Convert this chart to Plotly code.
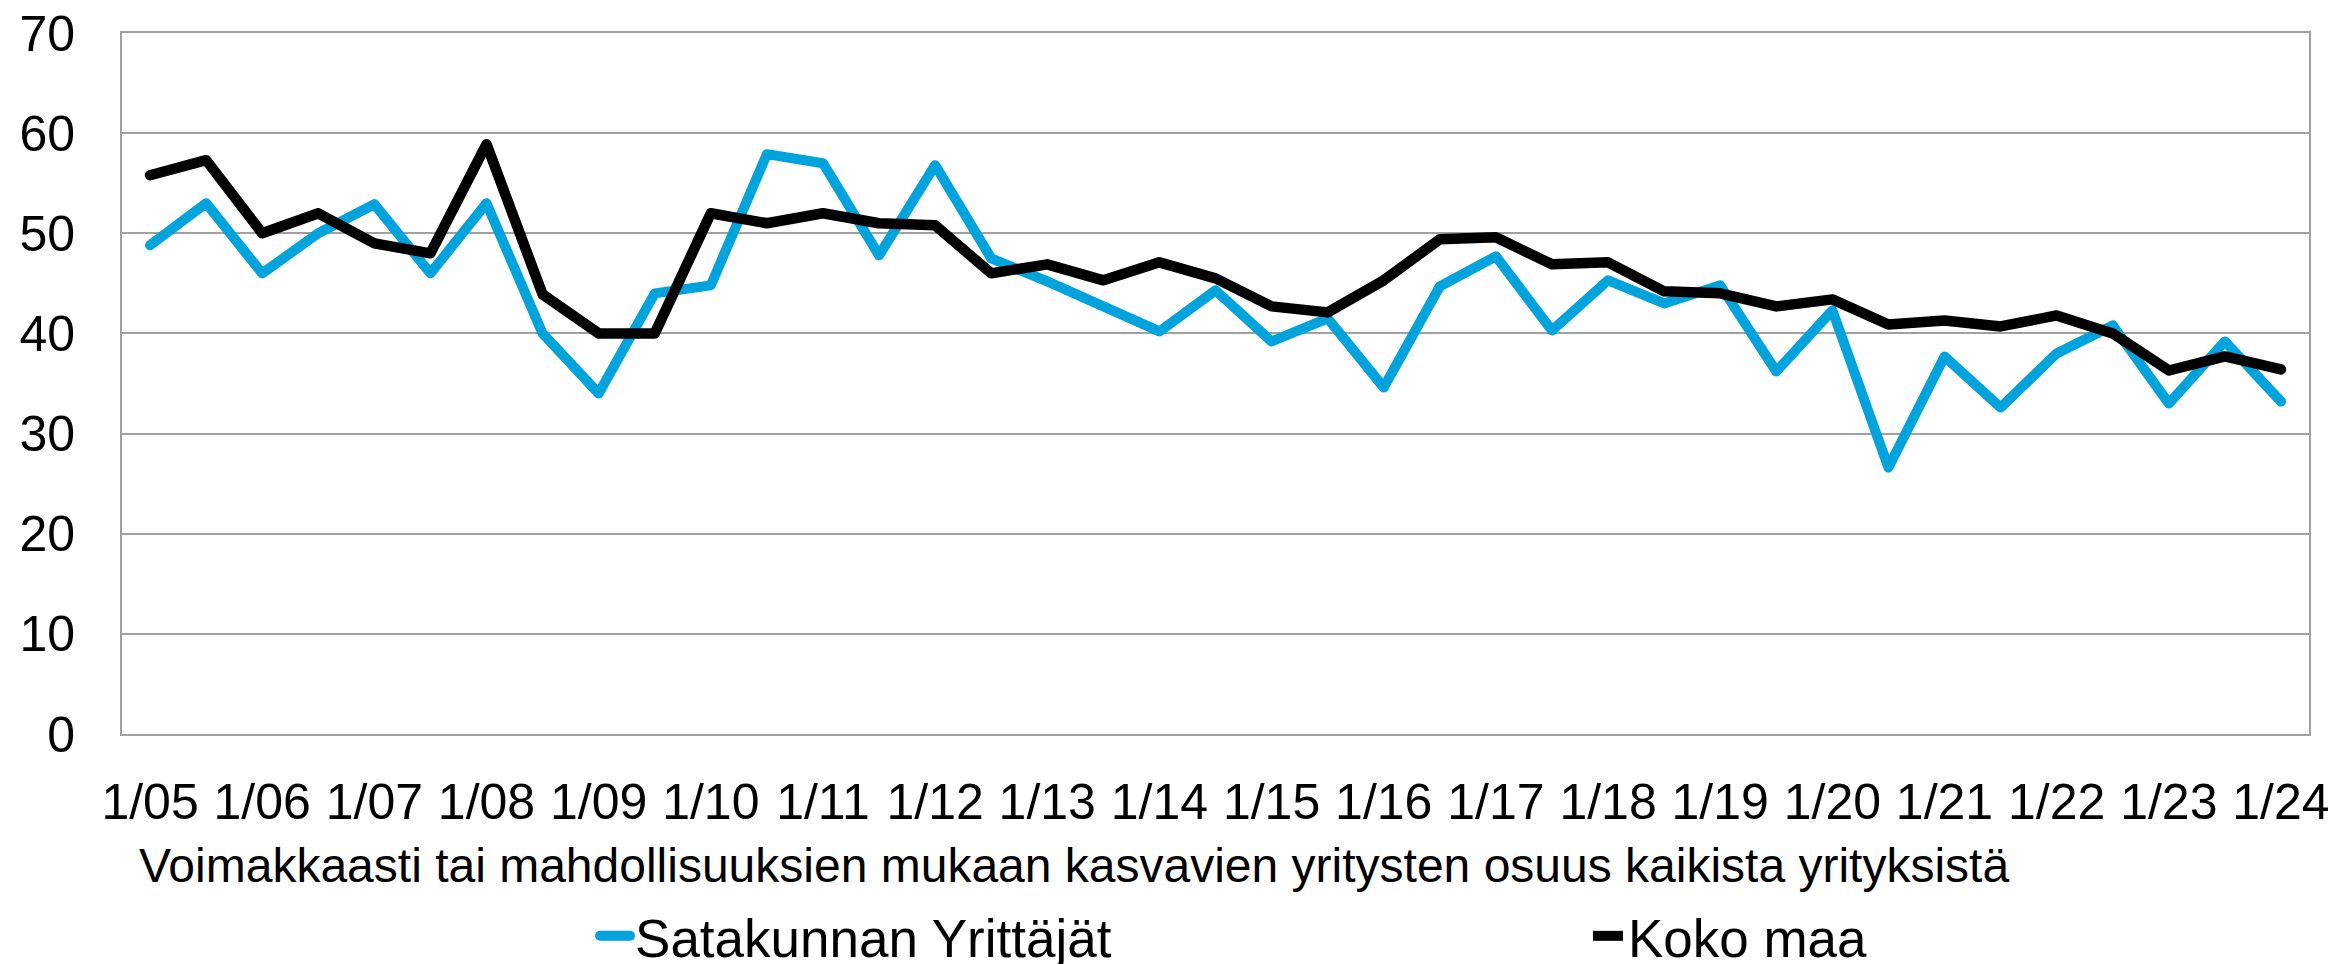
import plotly.graph_objects as go

# Half-year survey rounds 2005 spring .. 2024 spring (39 rounds)
periods = [f"{y} {h}" for y in range(2005, 2025) for h in ("I", "II")][:39]
tick_labels = ["1/05", "1/06", "1/07", "1/08", "1/09", "1/10", "1/11", "1/12", "1/13", "1/14",
               "1/15", "1/16", "1/17", "1/18", "1/19", "1/20", "1/21", "1/22", "1/23", "1/24"]
tick_periods = [p for p in periods if p.endswith(" I")]

satakunta = [48.8, 53.0, 46.0, 50.0, 52.9, 46.0, 53.0, 40.0, 34.0, 44.0,
             44.8, 57.9, 57.0, 47.8, 56.8, 47.5, 45.2, 42.8, 40.2, 44.3,
             39.2, 41.5, 34.6, 44.7, 47.7, 40.3, 45.3, 43.0, 44.8, 36.2,
             42.3, 26.6, 37.7, 32.6, 38.0, 40.8, 33.0, 39.2, 33.2]
koko_maa = [55.8, 57.3, 50.0, 52.0, 49.0, 48.0, 58.9, 43.9, 40.0, 40.0,
            52.0, 51.0, 52.0, 51.0, 50.8, 46.0, 46.9, 45.3, 47.1, 45.5,
            42.7, 42.1, 45.3, 49.4, 49.6, 46.9, 47.1, 44.2, 44.0, 42.7,
            43.4, 40.9, 41.3, 40.7, 41.8, 40.0, 36.3, 37.7, 36.4]

series_names = ["Satakunnan Yrittäjät", "Koko maa"]
axis_title = "Voimakkaasti tai mahdollisuuksien mukaan kasvavien yritysten osuus kaikista yrityksistä"
colors = ["#00A3DB", "#000000"]
font_family = "Liberation Sans, Arial, sans-serif"

fig = go.Figure()
fig.add_trace(go.Scatter(x=periods, y=satakunta, mode="lines", name=series_names[0],
                         line=dict(color=colors[0], width=10), legend="legend"))
fig.add_trace(go.Scatter(x=periods, y=koko_maa, mode="lines", name=series_names[1],
                         line=dict(color=colors[1], width=10.5), legend="legend2"))

fig.update_layout(
    width=2328, height=964,
    margin=dict(l=114, r=27, t=25, b=238, autoexpand=False),
    paper_bgcolor="white", plot_bgcolor="white",
    font=dict(family=font_family, size=50, color="black"),
    showlegend=True,
    legend=dict(x=0.2163, y=-0.288, xanchor="left", yanchor="middle",
                font=dict(size=53), bgcolor="rgba(0,0,0,0)", itemwidth=30),
    legend2=dict(x=0.6703, y=-0.288, xanchor="left", yanchor="middle",
                 font=dict(size=53), bgcolor="rgba(0,0,0,0)", itemwidth=30),
    annotations=[dict(text=axis_title,
                      x=0.4353, y=-0.188, xref="paper", yref="paper",
                      xanchor="center", yanchor="middle", showarrow=False,
                      font=dict(size=48, color="black"))],
)
fig.update_xaxes(type="category", categoryorder="array", categoryarray=periods,
                 range=[-0.5, len(periods) - 0.5],
                 tickvals=tick_periods, ticktext=tick_labels, tickangle=0,
                 showgrid=False, showline=True, linecolor="#A0A0A0", linewidth=2,
                 mirror=True, ticks="", ticklabelstandoff=23,
                 ticklabeloverflow="allow", tickfont=dict(size=50))
fig.update_yaxes(range=[0, 70], dtick=10, tick0=0,
                 showgrid=True, gridcolor="#A0A0A0", gridwidth=2,
                 showline=True, linecolor="#A0A0A0", linewidth=2, mirror=True,
                 zeroline=False, ticks="", ticklabelstandoff=35,
                 ticklabeloverflow="allow", tickfont=dict(size=50))

round_joins = """
document.querySelectorAll('.scatterlayer path.js-line, .legend path').forEach(function(p){
  p.style.strokeLinejoin = 'round'; p.style.strokeLinecap = 'round';
});
"""
fig.write_html("out.html", post_script=round_joins)
